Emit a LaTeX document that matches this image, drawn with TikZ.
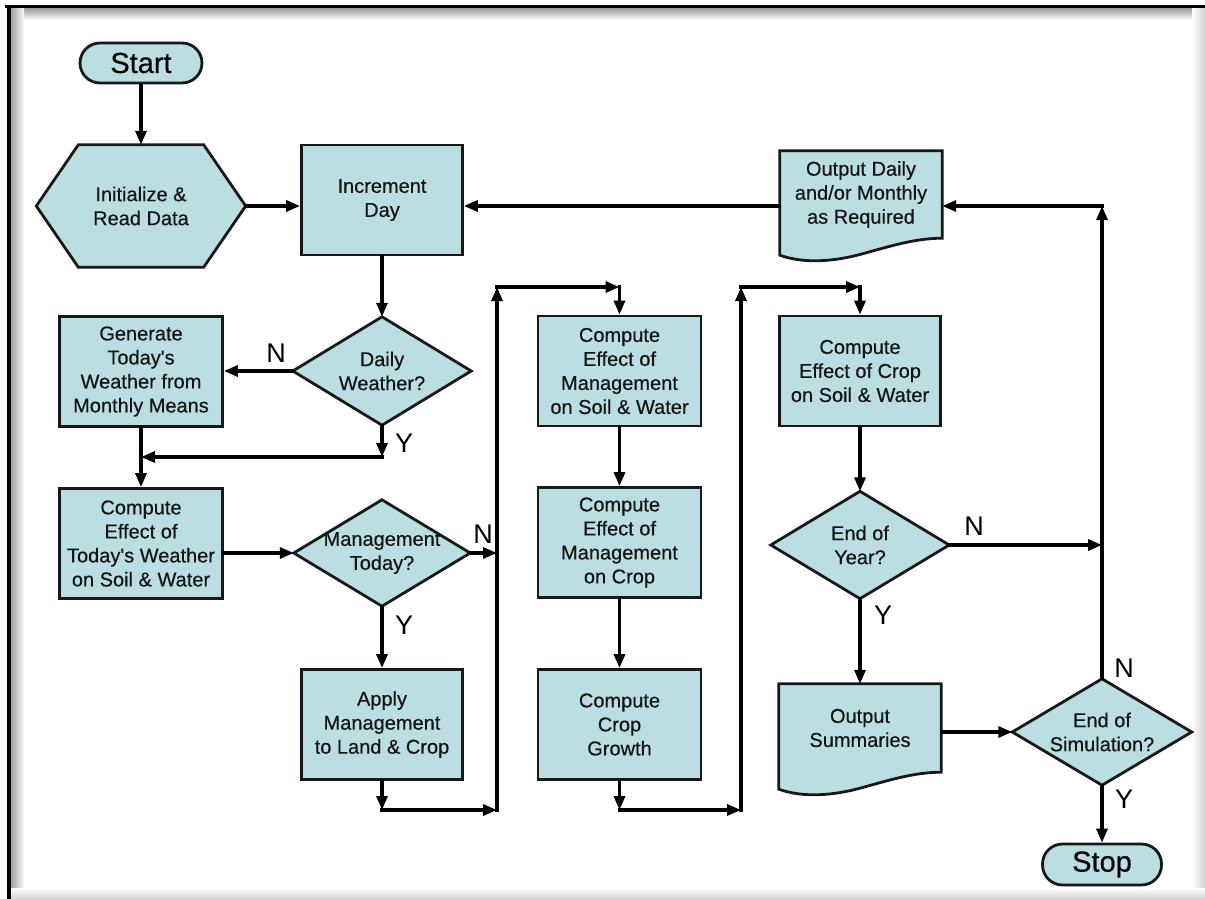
\documentclass[tikz,border=0pt]{standalone}
\usepackage{fontspec}
\setmainfont{Liberation Sans}
\newfontfamily\boxfont{Liberation Sans}[FakeBold=0.4]
\usetikzlibrary{arrows.meta,calc,backgrounds}
\definecolor{tealfill}{RGB}{186,222,225}
\definecolor{edgecol}{RGB}{24,24,24}
\newcommand\mydocpath[1]{%
  \path[shp] (#1.north west) -- (#1.north east) -- (#1.south east)
    .. controls ($(#1.south east)+(-27,0)$) and ($(#1.south east)+(-52,8)$) .. ($(#1.south)+(0,16)$)
    .. controls ($(#1.south)+(-26,23)$) and ($(#1.south west)+(25,26)$) .. ($(#1.south west)+(0,17)$)
    -- cycle;}
\begin{document}
\begin{tikzpicture}[x=1pt,y=-1pt,
  base/.style={font=\boxfont\fontsize{20}{24}\selectfont, align=center, text=black!92, inner sep=0pt},
  proc/.style={base, rectangle, draw=edgecol, line width=2.8pt, fill=tealfill, minimum width=163pt, minimum height=110pt},
  ghost/.style={base, rectangle},
  term/.style={rectangle, rounded corners=20pt, draw=edgecol, line width=2.8pt, fill=tealfill, inner sep=0pt,
               minimum width=122pt, minimum height=40pt, font=\boxfont\fontsize{29}{29}\selectfont},
  shp/.style={draw=edgecol, line width=2.8pt, fill=tealfill, line join=miter},
  arr/.style={draw=black, line width=3.2pt, line cap=rect, -{Triangle[length=14pt,width=11pt]}},
  lbl/.style={font=\fontsize{27}{27}\selectfont, inner sep=0pt, text=black}]
\useasboundingbox (0,0) rectangle (1205,899);

% nodes
\node[term] (start) at (141,63) {Start};
\node[ghost, minimum width=209pt, minimum height=122pt] (init) at (141,206) {Initialize \&\\Read Data};
\node[proc, minimum width=161pt] (inc) at (382,200) {Increment\\Day};
\node[ghost, minimum width=162pt, minimum height=87pt] (outd) at (861,194.5) {Output Daily\\and/or Monthly\\as Required};
\node[ghost, minimum width=178pt, minimum height=108pt] (dw) at (382,371) {Daily\\Weather?};
\node[proc] (gen) at (141,371.5) {Generate\\Today\textquotesingle s\\Weather from\\Monthly Means};
\node[proc] (comp) at (141,543.5) {Compute\\Effect of\\Today\textquotesingle s Weather\\on Soil \& Water};
\node[ghost, minimum width=176pt, minimum height=106pt] (mg) at (382,553) {Management\\Today?};
\node[proc, minimum width=161pt] (apply) at (382,724.5) {Apply\\Management\\to Land \& Crop};
\node[proc] (m1) at (619.5,371) {Compute\\Effect of\\Management\\on Soil \& Water};
\node[proc] (m2) at (619.5,542.5) {Compute\\Effect of\\Management\\on Crop};
\node[proc] (m3) at (619.5,724.5) {Compute\\Crop\\Growth};
\node[proc, minimum width=161pt] (crop) at (860,371) {Compute\\Effect of Crop\\on Soil \& Water};
\node[ghost, minimum width=178pt, minimum height=107pt] (ey) at (860,545) {End of\\Year?};
\node[ghost, minimum width=162pt, minimum height=88pt] (os) at (860,728) {Output\\Summaries};
\node[ghost, minimum width=179pt, minimum height=106pt] (es) at (1102,732) {End of\\Simulation?};
\node[term, minimum width=119pt, minimum height=41pt] (stop) at (1102,864.5) {Stop};

% labels
\node[lbl] (ldwn) at (276,353) {N};
\node[lbl] (ldwy) at (404,443) {Y};
\node[lbl] (lmgn) at (483,534) {N};
\node[lbl] (lmgy) at (404,625) {Y};
\node[lbl] (leyn) at (974,526) {N};
\node[lbl] (leyy) at (883,615) {Y};
\node[lbl] (lesn) at (1124,668) {N};
\node[lbl] (lesy) at (1124,799) {Y};

% helper coordinates
\coordinate (c1) at (382,457);
\coordinate (l1b) at (497,810);
\coordinate (l1t) at (497,287);
\coordinate (l2b) at (741,810);
\coordinate (l2t) at (741,287);

% connectors
\draw[arr] (start.south) -- (init.north);
\draw[arr] (init.east) -- (init.east -| inc.west);
\draw[arr] (init.east -| outd.west) -- (init.east -| inc.east);
\draw[arr] (inc.south) -- (dw.north);
\draw[arr] (dw.west) -- (dw.west -| gen.east);
\draw[arr] (dw.south) -- (c1);
\draw[arr] (c1) -- (c1 -| gen.south);
\draw[arr] (gen.south) -- (comp.north);
\draw[arr] (mg.west -| comp.east) -- (mg.west);
\draw[arr] (mg.east) -- (mg.east -| l1b);
\draw[arr] (mg.south) -- (apply.north);
\draw[arr] (apply.south) -- (apply.south |- l1b);
\draw[arr] (apply.south |- l1b) -- (l1b);
\draw[arr] (l1b) -- (l1t);
\draw[arr] (l1t) -- (l1t -| m1.north);
\draw[arr] (l1t -| m1.north) -- (m1.north);
\draw[arr] (m1.south) -- (m2.north);
\draw[arr] (m2.south) -- (m3.north);
\draw[arr] (m3.south) -- (m3.south |- l2b);
\draw[arr] (m3.south |- l2b) -- (l2b);
\draw[arr] (l2b) -- (l2t);
\draw[arr] (l2t) -- (l2t -| crop.north);
\draw[arr] (l2t -| crop.north) -- (crop.north);
\draw[arr] (crop.south) -- (ey.north);
\draw[arr] (ey.east) -- (ey.east -| es.north);
\draw[arr] (ey.south) -- (os.north);
\draw[arr] (es.west -| os.east) -- (es.west);
\draw[arr] (es.north) -- (es.north |- init.east);
\draw[arr] (es.north |- init.east) -- (init.east -| outd.east);
\draw[arr] (es.south) -- (stop.north);

% shapes and frame behind
\begin{scope}[on background layer]
  \fill[white] (0,0) rectangle (1205,899);
  \shade[top color=black!40, bottom color=white] (10,8) rectangle (1205,20);
  \shade[left color=black!40, right color=white] (10,8) rectangle (24,899);
  \shade[left color=white, right color=black!18] (1192,8) rectangle (1205,899);
  \shade[top color=white, bottom color=black!18] (10,888) rectangle (1205,899);
  \draw[line width=3pt] (5,6.5) -- (1205,6.5);
  \draw[line width=3.5pt] (9,5) -- (9,899);
  \path[shp] (init.west) -- ($(init.north west)+(42,0)$) -- ($(init.north east)+(-42,0)$)
     -- (init.east) -- ($(init.south east)+(-42,0)$) -- ($(init.south west)+(42,0)$) -- cycle;
  \path[shp] (dw.north) -- (dw.east) -- (dw.south) -- (dw.west) -- cycle;
  \path[shp] (mg.north) -- (mg.east) -- (mg.south) -- (mg.west) -- cycle;
  \path[shp] (ey.north) -- (ey.east) -- (ey.south) -- (ey.west) -- cycle;
  \path[shp] (es.north) -- (es.east) -- (es.south) -- (es.west) -- cycle;
  \mydocpath{outd}
  \mydocpath{os}
\end{scope}
\end{tikzpicture}
\end{document}
